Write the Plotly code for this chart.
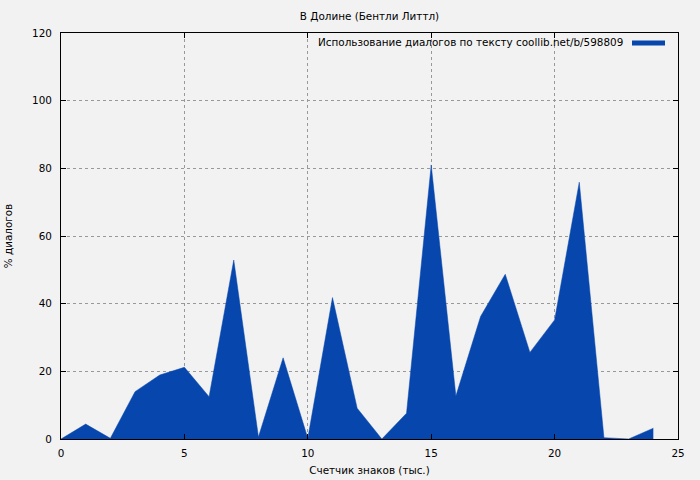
import plotly.graph_objects as go

# Data
x_thousands = list(range(0, 25))
dialog_pct = [0, 4.4, 0.2, 14.0, 18.9, 21.2, 12.5, 52.9, 0.6, 24.0, 0.2, 41.8,
              9.1, 0, 7.6, 81.0, 12.7, 36.2, 48.7, 25.6, 35.2, 75.9, 0.4, 0, 3.2]

title_text = "В Долине (Бентли Литтл)"
legend_text = "Использование диалогов по тексту coollib.net/b/598809"
x_title = "Счетчик знаков (тыс.)"
y_title = "% диалогов"
x_ticks = [0, 5, 10, 15, 20, 25]
y_ticks = [0, 20, 40, 60, 80, 100, 120]

fill_color = "#0646ad"
bg = "#f2f2f2"
font_family = "DejaVu Sans"
fs = 10.4

fig = go.Figure()
fig.add_trace(go.Scatter(
    x=x_thousands, y=dialog_pct, mode="lines", fill="tozeroy",
    fillcolor=fill_color, line=dict(color=fill_color, width=0.5),
    showlegend=False, hoverinfo="x+y",
))

axis_common = dict(
    showline=True, linecolor="black", linewidth=1, mirror="ticks",
    ticks="inside", ticklen=5, tickcolor="black",
    showgrid=True, gridcolor="#999999", griddash="3px,3px", gridwidth=1,
    zeroline=False, automargin=False,
    tickfont=dict(family=font_family, size=fs, color="black"),
)

fig.update_xaxes(range=[0, 25], tickvals=x_ticks, ticklabelstandoff=5,
                 title=dict(text=x_title, font=dict(family=font_family, size=fs, color="black"), standoff=8),
                 **axis_common)
fig.update_yaxes(range=[0, 120], tickvals=y_ticks, ticklabelstandoff=6,
                 title=dict(text=y_title, font=dict(family=font_family, size=fs, color="black"), standoff=17),
                 **axis_common)

fig.update_layout(
    width=700, height=480,
    margin=dict(l=61, r=22, t=33, b=41),
    paper_bgcolor=bg, plot_bgcolor=bg,
    font=dict(family=font_family, size=fs, color="black"),
    title=dict(text=title_text, x=(61 + 678) / 2 / 700, xanchor="center",
               y=1 - 16 / 480, yanchor="middle",
               font=dict(family=font_family, size=fs, color="black")),
    showlegend=False,
)

# gnuplot-style legend: text followed by sample line
fig.add_annotation(
    text=legend_text, xref="paper", yref="paper",
    x=(625 - 61) / (678 - 61), y=1 - (42 - 33) / (439 - 33),
    xanchor="right", yanchor="middle", showarrow=False,
    font=dict(family=font_family, size=fs, color="black"),
)
fig.add_shape(
    type="line", xref="paper", yref="paper",
    x0=(632 - 61) / (678 - 61), x1=(665 - 61) / (678 - 61),
    y0=1 - (43 - 33) / (439 - 33), y1=1 - (43 - 33) / (439 - 33),
    line=dict(color=fill_color, width=5),
)

fig.write_html("out.html", config={"displayModeBar": False},
               post_script="document.body.style.margin='0';document.body.style.background='%s';" % bg)
